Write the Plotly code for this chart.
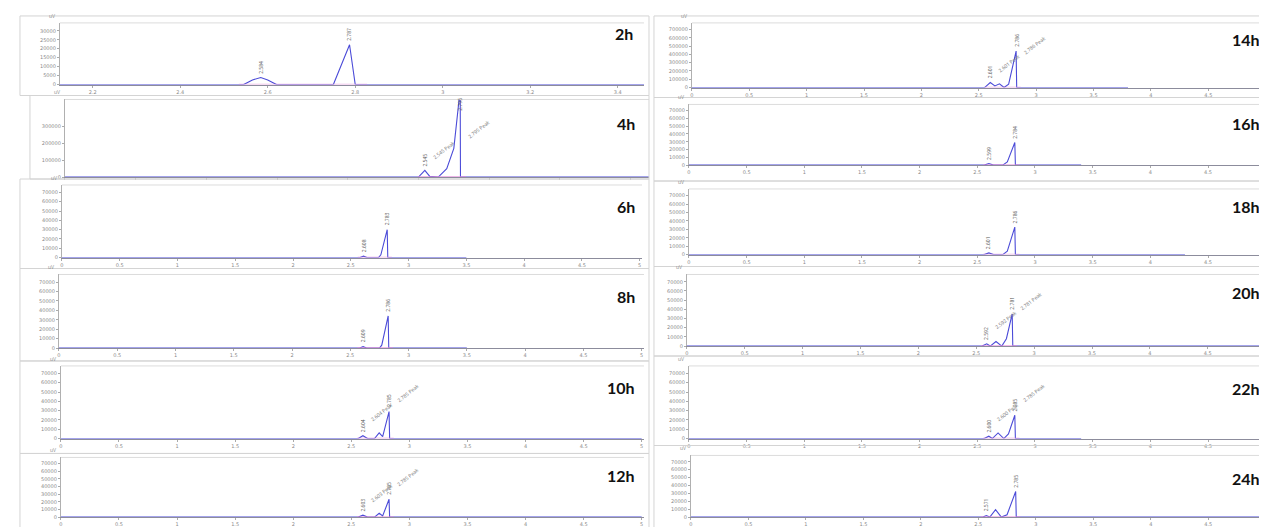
import plotly.graph_objects as go

# ---------------- data ----------------
hours = ["2h", "4h", "6h", "8h", "10h", "12h", "14h", "16h", "18h", "20h", "22h", "24h"]

t_2h = [2.125, 2.545, 2.565, 2.584, 2.60, 2.62, 2.75, 2.787, 2.80, 3.46]
s_2h = [0, 0, 2600, 3900, 2600, 0, 0, 22200, 0, 0]

t_4h = [0, 2.50, 2.545, 2.58, 2.64, 2.70, 2.75, 2.795, 2.797, 4.13]
s_4h = [0, 0, 40000, 4000, 0, 50000, 170000, 520000, 0, 0]

t_6h = [0, 2.58, 2.61, 2.64, 2.74, 2.76, 2.815, 2.82, 3.50]
s_6h = [0, 0, 1500, 0, 0, 3000, 30000, 0, 0]

t_8h = [0, 2.58, 2.61, 2.64, 2.75, 2.77, 2.825, 2.83, 3.50]
s_8h = [0, 0, 1500, 0, 0, 3000, 34000, 0, 0]

t_10h = [0, 2.56, 2.60, 2.64, 2.70, 2.74, 2.77, 2.825, 2.83, 5.0]
s_10h = [0, 0, 3000, 0, 0, 6000, 2000, 29000, 0, 0]

t_12h = [0, 2.56, 2.60, 2.64, 2.70, 2.74, 2.77, 2.825, 2.83, 5.0]
s_12h = [0, 0, 2500, 0, 0, 5000, 1500, 23300, 0, 0]

t_14h = [0, 2.55, 2.60, 2.64, 2.68, 2.72, 2.76, 2.825, 2.83, 3.80]
s_14h = [0, 0, 60000, 20000, 45000, 0, 40000, 440000, 0, 0]

t_16h = [0, 2.56, 2.60, 2.64, 2.72, 2.76, 2.825, 2.83, 3.40]
s_16h = [0, 0, 2000, 0, 0, 4000, 29000, 0, 0]

t_18h = [0, 2.56, 2.60, 2.64, 2.72, 2.76, 2.825, 2.83, 4.30]
s_18h = [0, 0, 2000, 0, 0, 4000, 32700, 0, 0]

t_20h = [0, 2.55, 2.59, 2.62, 2.67, 2.72, 2.76, 2.81, 2.815, 5.0]
s_20h = [0, 0, 2500, 0, 5000, 0, 8000, 35000, 0, 0]

t_22h = [0, 2.56, 2.60, 2.63, 2.68, 2.73, 2.77, 2.825, 2.83, 3.40]
s_22h = [0, 0, 2500, 0, 6000, 0, 5000, 25000, 0, 0]

t_24h = [0, 2.54, 2.57, 2.60, 2.65, 2.70, 2.75, 2.825, 2.83, 5.0]
s_24h = [0, 0, 2000, 0, 9500, 0, 3000, 32400, 0, 0]

# peak retention-time labels (time, text)
peak_t = {
    "2h": [2.584, 2.787], "4h": [2.545, 2.795], "6h": [2.61, 2.815], "8h": [2.61, 2.825],
    "10h": [2.60, 2.825], "12h": [2.60, 2.825], "14h": [2.60, 2.825], "16h": [2.60, 2.825],
    "18h": [2.60, 2.825], "20h": [2.59, 2.81], "22h": [2.60, 2.825], "24h": [2.57, 2.825],
}
peak_txt = {
    "2h": ["2.584", "2.787"], "4h": ["2.545", "2.795"], "6h": ["2.608", "2.783"],
    "8h": ["2.609", "2.786"], "10h": ["2.604", "2.785"], "12h": ["2.603", "2.785"],
    "14h": ["2.601", "2.786"], "16h": ["2.599", "2.784"], "18h": ["2.601", "2.786"],
    "20h": ["2.592", "2.781"], "22h": ["2.600", "2.785"], "24h": ["2.571", "2.785"],
}
diag_panels = ["4h", "10h", "12h", "14h", "20h", "22h"]

x_ticks_full = [0, 0.5, 1, 1.5, 2, 2.5, 3, 3.5, 4, 4.5, 5]
x_ticks_2h = [2.2, 2.4, 2.6, 2.8, 3.0, 3.2, 3.4]
y_ticks_small = [0, 10000, 20000, 30000, 40000, 50000, 60000, 70000]
y_ticks_2h = [0, 5000, 10000, 15000, 20000, 25000, 30000]
y_ticks_4h = [0, 100000, 200000, 300000]
y_ticks_14h = [0, 100000, 200000, 300000, 400000, 500000, 600000, 700000]

series = {
    "2h": (t_2h, s_2h), "4h": (t_4h, s_4h), "6h": (t_6h, s_6h), "8h": (t_8h, s_8h),
    "10h": (t_10h, s_10h), "12h": (t_12h, s_12h), "14h": (t_14h, s_14h), "16h": (t_16h, s_16h),
    "18h": (t_18h, s_18h), "20h": (t_20h, s_20h), "22h": (t_22h, s_22h), "24h": (t_24h, s_24h),
}

# ---------------- layout geometry (pixels) ----------------
W, H = 1267, 527
# plot area: left, top, right, bottom
boxes = {
    "2h": (50, 15, 635, 77), "4h": (55, 92, 640, 170), "6h": (52, 178, 633, 251),
    "8h": (49, 268, 635, 342), "10h": (51, 360, 635, 433), "12h": (51, 452, 635, 512),
    "14h": (683, 15, 1260, 80), "16h": (680, 97, 1260, 158), "18h": (680, 182, 1260, 248),
    "20h": (678, 268, 1260, 340), "22h": (680, 360, 1260, 433), "24h": (682, 450, 1260, 512),
}
frames = {
    "2h": (10, 8, 640, 88), "4h": (20, 88, 640, 172), "6h": (10, 172, 640, 262),
    "8h": (10, 262, 640, 355), "10h": (10, 355, 640, 448), "12h": (10, 448, 640, 527),
    "14h": (645, 8, 1267, 90), "16h": (645, 90, 1267, 174), "18h": (645, 174, 1267, 260),
    "20h": (645, 260, 1267, 350), "22h": (645, 350, 1267, 440), "24h": (645, 440, 1267, 527),
}
yranges = {"2h": [0, 34400], "4h": [0, 460000], "14h": [0, 780000]}
xranges = {"2h": [2.125, 3.46], "4h": [0, 4.13]}
label_pos = {
    "2h": (626, 26), "4h": (628, 116), "6h": (628, 200), "8h": (628, 290),
    "10h": (628, 382), "12h": (628, 470), "14h": (1254, 32), "16h": (1254, 116),
    "18h": (1254, 200), "20h": (1254, 286), "22h": (1254, 383), "24h": (1254, 473),
}

BLUE = "#4b4bd8"
PINK = "#e28ad9"

fig = go.Figure()
layout = dict(
    width=W, height=H, margin=dict(l=0, r=0, t=0, b=0),
    paper_bgcolor="white", plot_bgcolor="white", showlegend=False,
)
shapes, annotations = [], []

def px(x):
    return x / W

def py(y):
    return 1 - y / H

for i, h in enumerate(hours, start=1):
    l, t, r, b = boxes[h]
    xs, ys = series[h]
    xr = xranges.get(h, [0, 5.02])
    yr = yranges.get(h, [0, 78000])
    if h == "2h":
        xt, yt = x_ticks_2h, y_ticks_2h
    elif h == "4h":
        xt, yt = x_ticks_full, y_ticks_4h
    elif h == "14h":
        xt, yt = x_ticks_full, y_ticks_14h
    else:
        xt, yt = x_ticks_full, y_ticks_small
    xa = "x" if i == 1 else f"x{i}"
    ya = "y" if i == 1 else f"y{i}"
    fig.add_trace(go.Scatter(x=xs, y=ys, mode="lines", xaxis=xa, yaxis=ya,
                             line=dict(color=BLUE, width=1.1), hoverinfo="skip"))
    # integration baseline (pink)
    p0, p1 = peak_t[h]
    fig.add_trace(go.Scatter(x=[p0 - 0.05, p1 + 0.04], y=[yr[1] * 0.004, yr[1] * 0.004],
                             mode="lines", xaxis=xa, yaxis=ya,
                             line=dict(color=PINK, width=0.8), hoverinfo="skip"))
    axfont = dict(size=5, color="#8a8a8a", family="DejaVu Sans")
    layout["xaxis" if i == 1 else f"xaxis{i}"] = dict(
        domain=[px(l), px(r)], range=xr, anchor=ya, tickvals=xt,
        ticktext=[("%g" % v) for v in xt], tickfont=axfont,
        showline=True, linecolor="#8c8c9c", linewidth=1, mirror=False,
        ticks="outside", ticklen=2, tickcolor="#aaaaaa",
        showgrid=False, zeroline=False, fixedrange=True,
        showticklabels=(h != "4h"), ticklabeloverflow="allow",
    )
    layout["yaxis" if i == 1 else f"yaxis{i}"] = dict(
        domain=[py(b), py(t)], range=yr, anchor=xa, tickvals=yt,
        ticktext=[str(v) for v in yt], tickfont=axfont,
        showline=True, linecolor="#b0b0b0", linewidth=1,
        ticks="outside", ticklen=2, tickcolor="#aaaaaa",
        showgrid=False, zeroline=False, fixedrange=True,
    )
    # top border of plot area
    shapes.append(dict(type="line", xref="paper", yref="paper", x0=px(l), x1=px(r),
                       y0=py(t), y1=py(t), line=dict(color="#dcdcdc", width=1)))
    # screenshot frame
    fl, ft, fr, fb = frames[h]
    shapes.append(dict(type="rect", xref="paper", yref="paper", x0=px(fl), x1=px(fr),
                       y0=py(fb), y1=py(ft), line=dict(color="#d4d4d4", width=1)))
    # uV label
    annotations.append(dict(xref="paper", yref="paper", x=px(l - 3), y=py(t - 2),
                            text="uV", showarrow=False, xanchor="right", yanchor="bottom",
                            font=dict(size=5, color="#8a8a8a")))
    # time label
    lx, ly = label_pos[h]
    annotations.append(dict(xref="paper", yref="paper", x=px(lx), y=py(ly), text=f"<b>{h}</b>",
                            showarrow=False, xanchor="right", yanchor="middle",
                            font=dict(size=16, color="#111111", family="Lato")))
    # vertical retention-time labels
    for pt, ptxt in zip(peak_t[h], peak_txt[h]):
        k = min(range(len(xs)), key=lambda j: abs(xs[j] - pt))
        yv = min(max(ys[max(0, k - 1):k + 2]), yr[1] * 0.8)
        annotations.append(dict(xref=xa, yref=ya, x=pt, y=yv, text=ptxt, textangle=-90,
                                showarrow=False, xanchor="center", yanchor="bottom", yshift=2,
                                font=dict(size=5, color="#555555")))
    # diagonal peak-name labels
    if h in diag_panels:
        for pt, ptxt in zip(peak_t[h], peak_txt[h]):
            annotations.append(dict(xref=xa, yref=ya, x=pt, y=yr[1] * (0.18 if pt < 2.7 else 0.45),
                                    text=f"{ptxt} Peak", textangle=-38, showarrow=False,
                                    xanchor="left", yanchor="bottom", xshift=4,
                                    font=dict(size=5, color="#777777")))

layout["shapes"] = shapes
layout["annotations"] = annotations
fig.update_layout(**layout)
fig.write_html("out.html")
